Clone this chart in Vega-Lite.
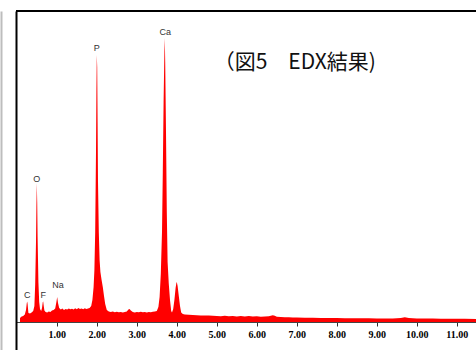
{
  "$schema": "https://vega.github.io/schema/vega-lite/v6.json",
  "width": 460,
  "height": 339,
  "autosize": {"type": "none"},
  "padding": {"left": 16, "top": 11, "right": 0, "bottom": 0},
  "background": "white",
  "config": {"view": {"stroke": null}},
  "datasets": {
    "spectrum": [
      {"keV": 0.08, "counts": 40}, {"keV": 0.12, "counts": 55}, {"keV": 0.16, "counts": 60}, {"keV": 0.2, "counts": 75},
      {"keV": 0.23, "counts": 120}, {"keV": 0.25, "counts": 190}, {"keV": 0.26, "counts": 205}, {"keV": 0.27, "counts": 180},
      {"keV": 0.29, "counts": 90}, {"keV": 0.33, "counts": 85}, {"keV": 0.37, "counts": 95}, {"keV": 0.41, "counts": 110},
      {"keV": 0.44, "counts": 160}, {"keV": 0.46, "counts": 380}, {"keV": 0.48, "counts": 800}, {"keV": 0.49, "counts": 1150},
      {"keV": 0.5, "counts": 1390}, {"keV": 0.51, "counts": 1200}, {"keV": 0.52, "counts": 850}, {"keV": 0.54, "counts": 400},
      {"keV": 0.56, "counts": 200}, {"keV": 0.58, "counts": 130}, {"keV": 0.61, "counts": 110}, {"keV": 0.63, "counts": 140},
      {"keV": 0.65, "counts": 200}, {"keV": 0.66, "counts": 205}, {"keV": 0.67, "counts": 170}, {"keV": 0.69, "counts": 115},
      {"keV": 0.72, "counts": 100}, {"keV": 0.76, "counts": 95}, {"keV": 0.8, "counts": 105}, {"keV": 0.84, "counts": 100},
      {"keV": 0.88, "counts": 115}, {"keV": 0.92, "counts": 120}, {"keV": 0.96, "counts": 135}, {"keV": 0.99, "counts": 200},
      {"keV": 1.01, "counts": 250}, {"keV": 1.03, "counts": 190}, {"keV": 1.06, "counts": 140}, {"keV": 1.1, "counts": 125},
      {"keV": 1.14, "counts": 135}, {"keV": 1.18, "counts": 120}, {"keV": 1.22, "counts": 130}, {"keV": 1.26, "counts": 125},
      {"keV": 1.3, "counts": 135}, {"keV": 1.34, "counts": 128}, {"keV": 1.38, "counts": 132}, {"keV": 1.42, "counts": 125},
      {"keV": 1.46, "counts": 138}, {"keV": 1.5, "counts": 128}, {"keV": 1.54, "counts": 140}, {"keV": 1.58, "counts": 130},
      {"keV": 1.62, "counts": 136}, {"keV": 1.66, "counts": 128}, {"keV": 1.7, "counts": 138}, {"keV": 1.74, "counts": 130},
      {"keV": 1.78, "counts": 135}, {"keV": 1.82, "counts": 140}, {"keV": 1.86, "counts": 160}, {"keV": 1.89, "counts": 220},
      {"keV": 1.92, "counts": 350}, {"keV": 1.94, "counts": 520}, {"keV": 1.96, "counts": 900}, {"keV": 1.98, "counts": 1700},
      {"keV": 1.99, "counts": 2300}, {"keV": 2.0, "counts": 2670}, {"keV": 2.01, "counts": 2550}, {"keV": 2.02, "counts": 2000},
      {"keV": 2.03, "counts": 1400}, {"keV": 2.05, "counts": 900}, {"keV": 2.07, "counts": 620}, {"keV": 2.09, "counts": 500},
      {"keV": 2.12, "counts": 420}, {"keV": 2.15, "counts": 350}, {"keV": 2.18, "counts": 260}, {"keV": 2.21, "counts": 180},
      {"keV": 2.25, "counts": 120}, {"keV": 2.3, "counts": 105}, {"keV": 2.35, "counts": 100}, {"keV": 2.4, "counts": 104},
      {"keV": 2.45, "counts": 98}, {"keV": 2.5, "counts": 102}, {"keV": 2.55, "counts": 97}, {"keV": 2.6, "counts": 100},
      {"keV": 2.65, "counts": 95}, {"keV": 2.7, "counts": 100}, {"keV": 2.75, "counts": 105}, {"keV": 2.79, "counts": 125},
      {"keV": 2.82, "counts": 130}, {"keV": 2.85, "counts": 115}, {"keV": 2.9, "counts": 100}, {"keV": 2.95, "counts": 96},
      {"keV": 3.0, "counts": 100}, {"keV": 3.05, "counts": 97}, {"keV": 3.1, "counts": 102}, {"keV": 3.15, "counts": 98},
      {"keV": 3.2, "counts": 100}, {"keV": 3.25, "counts": 96}, {"keV": 3.3, "counts": 101}, {"keV": 3.35, "counts": 98},
      {"keV": 3.4, "counts": 102}, {"keV": 3.45, "counts": 105}, {"keV": 3.5, "counts": 110}, {"keV": 3.54, "counts": 150},
      {"keV": 3.57, "counts": 250}, {"keV": 3.6, "counts": 480}, {"keV": 3.63, "counts": 900}, {"keV": 3.65, "counts": 1500},
      {"keV": 3.67, "counts": 2200}, {"keV": 3.69, "counts": 2700}, {"keV": 3.7, "counts": 2840}, {"keV": 3.71, "counts": 2600},
      {"keV": 3.73, "counts": 1900}, {"keV": 3.75, "counts": 1100}, {"keV": 3.77, "counts": 600}, {"keV": 3.8, "counts": 380},
      {"keV": 3.83, "counts": 220}, {"keV": 3.86, "counts": 110}, {"keV": 3.88, "counts": 95}, {"keV": 3.91, "counts": 130},
      {"keV": 3.94, "counts": 220}, {"keV": 3.97, "counts": 340}, {"keV": 3.99, "counts": 390}, {"keV": 4.0, "counts": 400},
      {"keV": 4.02, "counts": 360}, {"keV": 4.05, "counts": 260}, {"keV": 4.08, "counts": 160}, {"keV": 4.11, "counts": 95},
      {"keV": 4.15, "counts": 80}, {"keV": 4.2, "counts": 75}, {"keV": 4.3, "counts": 72}, {"keV": 4.4, "counts": 70},
      {"keV": 4.5, "counts": 68}, {"keV": 4.6, "counts": 66}, {"keV": 4.7, "counts": 64}, {"keV": 4.8, "counts": 65},
      {"keV": 4.9, "counts": 62}, {"keV": 5.0, "counts": 60}, {"keV": 5.1, "counts": 58}, {"keV": 5.2, "counts": 62},
      {"keV": 5.3, "counts": 57}, {"keV": 5.4, "counts": 60}, {"keV": 5.5, "counts": 56}, {"keV": 5.6, "counts": 59},
      {"keV": 5.7, "counts": 55}, {"keV": 5.8, "counts": 60}, {"keV": 5.9, "counts": 54}, {"keV": 6.0, "counts": 57},
      {"keV": 6.1, "counts": 52}, {"keV": 6.2, "counts": 55}, {"keV": 6.3, "counts": 58}, {"keV": 6.4, "counts": 68},
      {"keV": 6.45, "counts": 62}, {"keV": 6.5, "counts": 52}, {"keV": 6.6, "counts": 50}, {"keV": 6.7, "counts": 48},
      {"keV": 6.8, "counts": 47}, {"keV": 6.9, "counts": 45}, {"keV": 7.0, "counts": 44}, {"keV": 7.2, "counts": 43},
      {"keV": 7.4, "counts": 42}, {"keV": 7.6, "counts": 41}, {"keV": 7.8, "counts": 40}, {"keV": 8.0, "counts": 40},
      {"keV": 8.2, "counts": 38}, {"keV": 8.4, "counts": 38}, {"keV": 8.6, "counts": 37}, {"keV": 8.8, "counts": 37},
      {"keV": 9.0, "counts": 36}, {"keV": 9.2, "counts": 36}, {"keV": 9.4, "counts": 36}, {"keV": 9.6, "counts": 40},
      {"keV": 9.7, "counts": 48}, {"keV": 9.8, "counts": 40}, {"keV": 10.0, "counts": 35}, {"keV": 10.2, "counts": 34},
      {"keV": 10.4, "counts": 34}, {"keV": 10.6, "counts": 33}, {"keV": 10.8, "counts": 33}, {"keV": 11.0, "counts": 32},
      {"keV": 11.2, "counts": 32}, {"keV": 11.48, "counts": 31}
    ],
    "peaks": [
      {"element": "C", "keV": 0.26, "counts": 270},
      {"element": "F", "keV": 0.66, "counts": 270},
      {"element": "Na", "keV": 1.03, "counts": 370},
      {"element": "O", "keV": 0.5, "counts": 1430},
      {"element": "P", "keV": 2.0, "counts": 2740},
      {"element": "Ca", "keV": 3.71, "counts": 2900}
    ],
    "caption": [
      {"text": "（図5　EDX結果)", "keV": 6.95, "counts": 2590}
    ],
    "frame": [
      {"edge": "top"}
    ]
  },
  "layer": [
    {
      "data": {"name": "spectrum"},
      "mark": {"type": "area", "color": "#ff0000", "interpolate": "linear"},
      "encoding": {
        "x": {
          "field": "keV", "type": "quantitative", "title": null,
          "scale": {"domain": [-0.02, 11.48], "nice": false, "zero": false},
          "axis": {
            "orient": "bottom", "offset": -28,
            "values": [1, 2, 3, 4, 5, 6, 7, 8, 9, 10, 11],
            "format": ".2f", "grid": false,
            "labelFont": "Liberation Serif", "labelFontWeight": "bold", "labelFontSize": 10, "labelColor": "#000",
            "labelPadding": 3, "tickColor": "#333", "tickSize": 4,
            "domainColor": "#444", "domainWidth": 1
          }
        },
        "y": {
          "field": "counts", "type": "quantitative", "title": null,
          "scale": {"domain": [-280, 3110], "nice": false, "zero": false},
          "axis": {"domainColor": "#000", "domainWidth": 2, "labels": false, "ticks": false, "grid": false}
        },
        "y2": {"datum": 0}
      }
    },
    {
      "data": {"name": "frame"},
      "mark": {"type": "rule", "color": "#000", "strokeWidth": 2},
      "encoding": {
        "y": {
          "datum": 3110, "type": "quantitative", "title": null,
          "axis": {"orient": "left", "offset": 15, "domainColor": "#bdbdbd", "domainWidth": 2, "labels": false, "ticks": false, "grid": false}
        }
      }
    },
    {
      "data": {"name": "peaks"},
      "mark": {"type": "text", "font": "Liberation Sans", "fontSize": 9, "color": "#333", "baseline": "middle", "align": "center"},
      "encoding": {
        "x": {"field": "keV", "type": "quantitative", "title": null},
        "y": {"field": "counts", "type": "quantitative", "title": null, "axis": null},
        "text": {"field": "element"}
      }
    },
    {
      "data": {"name": "caption"},
      "mark": {"type": "text", "font": "Noto Sans CJK JP", "fontSize": 21, "color": "#111", "baseline": "middle", "align": "center"},
      "encoding": {
        "x": {"field": "keV", "type": "quantitative", "title": null},
        "y": {"field": "counts", "type": "quantitative", "title": null, "axis": null},
        "text": {"field": "text"}
      }
    }
  ],
  "resolve": {"axis": {"y": "independent"}}
}
